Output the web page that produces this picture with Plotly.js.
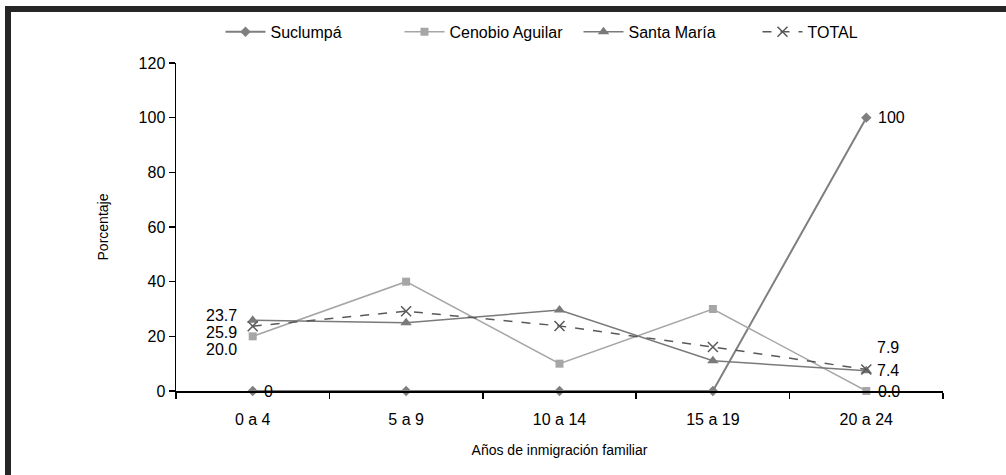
<!DOCTYPE html>
<html>
<head>
<meta charset="utf-8">
<script src="https://cdn.plot.ly/plotly-3.0.1.min.js"></script>
<style>
  html, body { margin: 0; padding: 0; background: #fff; }
  #wrap { position: relative; width: 1006px; height: 475px; overflow: hidden; }
  #chart { position: absolute; left: 0; top: 0; width: 1006px; height: 475px; }
  .bar { position: absolute; background: #262626; }
</style>
</head>
<body>
<div id="wrap">
  <div id="chart"></div>
  <div class="bar" style="left:5px; top:6px; width:1001px; height:6px;"></div>
  <div class="bar" style="left:5px; top:6px; width:6px; height:469px;"></div>
</div>
<script>
const categories = ["0 a 4", "5 a 9", "10 a 14", "15 a 19", "20 a 24"];
const suclumpa = [0, 0, 0, 0, 100];
const cenobio = [20.0, 40, 10, 30, 0.0];
const santaMaria = [25.9, 25, 29.6, 11.1, 7.4];
const total = [23.7, 29.2, 23.8, 16.1, 7.9];
const yTicks = [0, 20, 40, 60, 80, 100, 120];

const font = "Liberation Sans, Arial, sans-serif";

const traces = [
  { name: "Suclumpá", x: categories, y: suclumpa, mode: "lines+markers",
    line: { color: "#7f7f7f", width: 2 },
    marker: { symbol: "diamond", size: 8, color: "#7f7f7f" }, cliponaxis: false },
  { name: "Cenobio Aguilar", x: categories, y: cenobio, mode: "lines+markers",
    line: { color: "#a6a6a6", width: 1.5 },
    marker: { symbol: "square", size: 8, color: "#a6a6a6" }, cliponaxis: false },
  { name: "Santa María", x: categories, y: santaMaria, mode: "lines+markers",
    line: { color: "#7a7a7a", width: 1.5 },
    marker: { symbol: "triangle-up", size: 10, color: "#7a7a7a" }, cliponaxis: false },
  { name: "TOTAL", x: categories, y: total, mode: "lines+markers",
    line: { color: "#595959", width: 1.5, dash: "dash" },
    marker: { symbol: "x-thin-open", size: 10, color: "#595959", line: { width: 1.5, color: "#595959" } },
    cliponaxis: false }
];

const ann = (x, y, text, anchor, xs, ys) => ({
  x: x, y: y, xref: "x", yref: "y", text: text, showarrow: false,
  xanchor: anchor, yanchor: "middle", xshift: xs, yshift: ys,
  font: { family: font, size: 16, color: "#000" }
});

const last = categories.length - 1;
const annotations = [
  ann(categories[0], total[0], total[0].toFixed(1), "right", -14, 11),
  ann(categories[0], santaMaria[0], santaMaria[0].toFixed(1), "right", -14, -12),
  ann(categories[0], cenobio[0], cenobio[0].toFixed(1), "right", -14, -13),
  ann(categories[0], suclumpa[0], String(suclumpa[0]), "left", 9, 0),
  ann(categories[last], suclumpa[last], String(suclumpa[last]), "left", 10, 0),
  ann(categories[last], total[last], total[last].toFixed(1), "left", 9, 22),
  ann(categories[last], santaMaria[last], santaMaria[last].toFixed(1), "left", 9, 0),
  ann(categories[last], cenobio[last], cenobio[last].toFixed(1), "left", 10, 0)
];

const layout = {
  width: 1006, height: 475,
  margin: { l: 176, r: 63, t: 63, b: 84, autoexpand: false },
  paper_bgcolor: "#fff", plot_bgcolor: "#fff",
  font: { family: font, size: 16, color: "#000" },
  showlegend: true,
  legend: { orientation: "h", x: 0.058, xanchor: "left", y: 1.043, yanchor: "bottom",
            font: { family: font, size: 16 }, itemwidth: 40, tracegroupgap: 0,
            entrywidth: 124, entrywidthmode: "pixels" },
  xaxis: {
    type: "category", range: [-0.5, 4.5], showline: true, linecolor: "#000", linewidth: 2,
    ticks: "outside", tickson: "boundaries", ticklen: 6, tickcolor: "#000", tickwidth: 1.5,
    showgrid: false, zeroline: false, tickfont: { size: 16 }, ticklabelstandoff: 13,
    title: { text: "Años de inmigración familiar", font: { size: 14 }, standoff: 18 }
  },
  yaxis: {
    range: [0, 120], tickvals: yTicks, showline: true, linecolor: "#000", linewidth: 1.5,
    ticks: "outside", ticklen: 6, tickcolor: "#000", tickwidth: 1.5,
    showgrid: false, zeroline: false, tickfont: { size: 16 },
    title: { text: "Porcentaje", font: { size: 14 }, standoff: 26 }
  },
  annotations: annotations
};

Plotly.newPlot("chart", traces, layout, { displayModeBar: false, staticPlot: true });
</script>
</body>
</html>
